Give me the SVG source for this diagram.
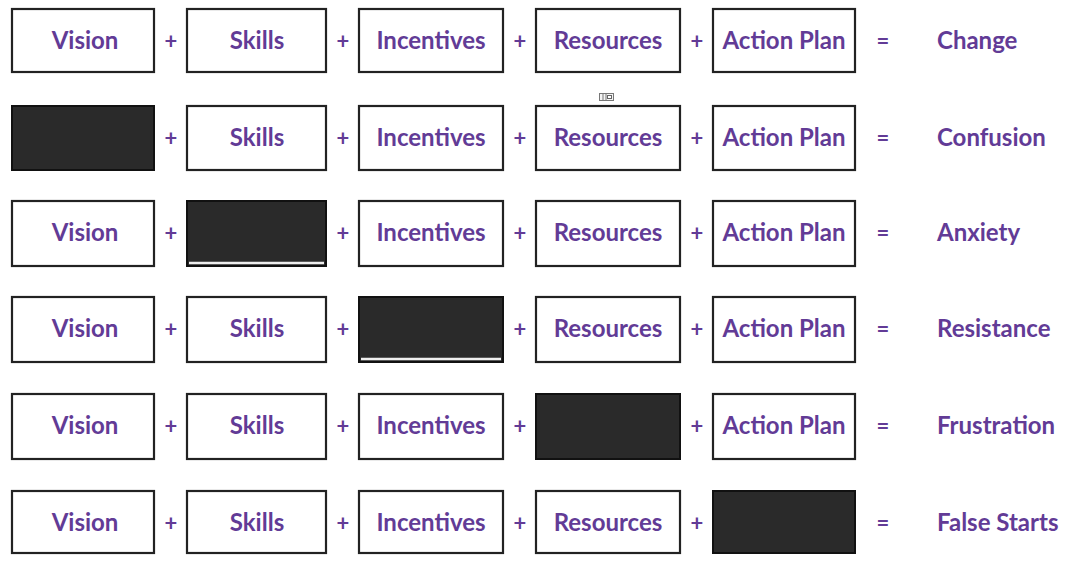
<svg xmlns="http://www.w3.org/2000/svg" width="1081" height="567" viewBox="0 0 1081 567">
<style>
.box{fill:#fff;stroke:#222;stroke-width:2.2}
.dark{fill:#2a2a2a;stroke:#111;stroke-width:2}
.t{font-family:Lato,"Open Sans",sans-serif;font-weight:bold;font-size:24px;fill:#623b96;text-anchor:middle}
.r{font-family:Lato,"Open Sans",sans-serif;font-weight:bold;font-size:24px;fill:#623b96}
.op{font-family:Lato,"Open Sans",sans-serif;font-weight:bold;font-size:22px;fill:#623b96;text-anchor:middle}
.wl{stroke:#eee;stroke-width:2.5}
</style>
<rect width="1081" height="567" fill="#fff"/>
<!-- Row 1 -->
<g id="row1">
<g id="r1-vision"><rect class="box" x="12" y="9" width="142" height="63"/><text class="t" x="85" y="49">Vision</text></g>
<text class="op" x="171" y="49">+</text>
<g id="r1-skills"><rect class="box" x="187" y="9" width="139" height="63"/><text class="t" x="257" y="49">Skills</text></g>
<text class="op" x="343" y="49">+</text>
<g id="r1-incentives"><rect class="box" x="359" y="9" width="144" height="63"/><text class="t" x="431" y="49">Incentives</text></g>
<text class="op" x="520" y="49">+</text>
<g id="r1-resources"><rect class="box" x="536" y="9" width="144" height="63"/><text class="t" x="608" y="49">Resources</text></g>
<text class="op" x="697" y="49">+</text>
<g id="r1-action"><rect class="box" x="713" y="9" width="142" height="63"/><text class="t" x="784" y="49">Action Plan</text></g>
<text class="op" x="883" y="49">=</text>
<text class="r" x="937" y="49">Change</text>
</g>
<!-- icon -->
<g id="icon">
<rect x="599.5" y="93.5" width="14" height="7" fill="#f4f4f4" stroke="#777" stroke-width="1"/>
<line x1="603" y1="94" x2="603" y2="100" stroke="#777" stroke-width="1"/>
<line x1="606" y1="94" x2="606" y2="100" stroke="#777" stroke-width="1"/>
<rect x="607.5" y="95.5" width="4" height="3" fill="#fff" stroke="#666" stroke-width="1"/>
</g>
<!-- Row 2 -->
<g id="row2">
<g id="r2-vision"><rect class="dark" x="12" y="106" width="142" height="64"/></g>
<text class="op" x="171" y="146">+</text>
<g id="r2-skills"><rect class="box" x="187" y="106" width="139" height="64"/><text class="t" x="257" y="146">Skills</text></g>
<text class="op" x="343" y="146">+</text>
<g id="r2-incentives"><rect class="box" x="359" y="106" width="144" height="64"/><text class="t" x="431" y="146">Incentives</text></g>
<text class="op" x="520" y="146">+</text>
<g id="r2-resources"><rect class="box" x="536" y="106" width="144" height="64"/><text class="t" x="608" y="146">Resources</text></g>
<text class="op" x="697" y="146">+</text>
<g id="r2-action"><rect class="box" x="713" y="106" width="142" height="64"/><text class="t" x="784" y="146">Action Plan</text></g>
<text class="op" x="883" y="146">=</text>
<text class="r" x="937" y="146">Confusion</text>
</g>
<!-- Row 3 -->
<g id="row3">
<g id="r3-vision"><rect class="box" x="12" y="201" width="142" height="65"/><text class="t" x="85" y="241">Vision</text></g>
<text class="op" x="171" y="241">+</text>
<g id="r3-skills"><rect class="dark" x="187" y="201" width="139" height="65"/><line class="wl" x1="189" y1="263" x2="324" y2="263"/></g>
<text class="op" x="343" y="241">+</text>
<g id="r3-incentives"><rect class="box" x="359" y="201" width="144" height="65"/><text class="t" x="431" y="241">Incentives</text></g>
<text class="op" x="520" y="241">+</text>
<g id="r3-resources"><rect class="box" x="536" y="201" width="144" height="65"/><text class="t" x="608" y="241">Resources</text></g>
<text class="op" x="697" y="241">+</text>
<g id="r3-action"><rect class="box" x="713" y="201" width="142" height="65"/><text class="t" x="784" y="241">Action Plan</text></g>
<text class="op" x="883" y="241">=</text>
<text class="r" x="937" y="241">Anxiety</text>
</g>
<!-- Row 4 -->
<g id="row4">
<g id="r4-vision"><rect class="box" x="12" y="297" width="142" height="65"/><text class="t" x="85" y="337">Vision</text></g>
<text class="op" x="171" y="337">+</text>
<g id="r4-skills"><rect class="box" x="187" y="297" width="139" height="65"/><text class="t" x="257" y="337">Skills</text></g>
<text class="op" x="343" y="337">+</text>
<g id="r4-incentives"><rect class="dark" x="359" y="297" width="144" height="65"/><line class="wl" x1="361" y1="359" x2="501" y2="359"/></g>
<text class="op" x="520" y="337">+</text>
<g id="r4-resources"><rect class="box" x="536" y="297" width="144" height="65"/><text class="t" x="608" y="337">Resources</text></g>
<text class="op" x="697" y="337">+</text>
<g id="r4-action"><rect class="box" x="713" y="297" width="142" height="65"/><text class="t" x="784" y="337">Action Plan</text></g>
<text class="op" x="883" y="337">=</text>
<text class="r" x="937" y="337">Resistance</text>
</g>
<!-- Row 5 -->
<g id="row5">
<g id="r5-vision"><rect class="box" x="12" y="394" width="142" height="65"/><text class="t" x="85" y="434">Vision</text></g>
<text class="op" x="171" y="434">+</text>
<g id="r5-skills"><rect class="box" x="187" y="394" width="139" height="65"/><text class="t" x="257" y="434">Skills</text></g>
<text class="op" x="343" y="434">+</text>
<g id="r5-incentives"><rect class="box" x="359" y="394" width="144" height="65"/><text class="t" x="431" y="434">Incentives</text></g>
<text class="op" x="520" y="434">+</text>
<g id="r5-resources"><rect class="dark" x="536" y="394" width="144" height="65"/></g>
<text class="op" x="697" y="434">+</text>
<g id="r5-action"><rect class="box" x="713" y="394" width="142" height="65"/><text class="t" x="784" y="434">Action Plan</text></g>
<text class="op" x="883" y="434">=</text>
<text class="r" x="937" y="434">Frustration</text>
</g>
<!-- Row 6 -->
<g id="row6">
<g id="r6-vision"><rect class="box" x="12" y="491" width="142" height="62"/><text class="t" x="85" y="531">Vision</text></g>
<text class="op" x="171" y="531">+</text>
<g id="r6-skills"><rect class="box" x="187" y="491" width="139" height="62"/><text class="t" x="257" y="531">Skills</text></g>
<text class="op" x="343" y="531">+</text>
<g id="r6-incentives"><rect class="box" x="359" y="491" width="144" height="62"/><text class="t" x="431" y="531">Incentives</text></g>
<text class="op" x="520" y="531">+</text>
<g id="r6-resources"><rect class="box" x="536" y="491" width="144" height="62"/><text class="t" x="608" y="531">Resources</text></g>
<text class="op" x="697" y="531">+</text>
<g id="r6-action"><rect class="dark" x="713" y="491" width="142" height="62"/></g>
<text class="op" x="883" y="531">=</text>
<text class="r" x="937" y="531">False Starts</text>
</g>
</svg>
